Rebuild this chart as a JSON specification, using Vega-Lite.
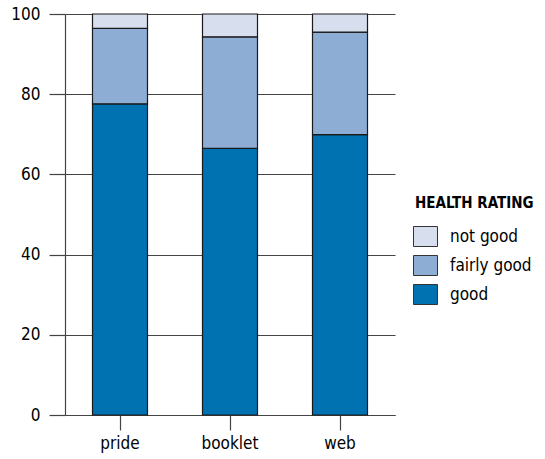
{
  "$schema": "https://vega.github.io/schema/vega-lite/v6.json",
  "autosize": "none",
  "width": 330,
  "height": 401,
  "padding": {"left": 65, "top": 14, "right": 150, "bottom": 44},
  "background": "white",
  "config": {
    "font": "DejaVu Sans Condensed, Roboto, sans-serif",
    "view": {"stroke": null},
    "axis": {"domainColor": "#444", "tickColor": "#444", "gridColor": "#444", "labelColor": "#000", "labelFont": "DejaVu Sans Condensed, Roboto, sans-serif"},
    "legend": {"labelFont": "DejaVu Sans Condensed, Roboto, sans-serif", "titleFont": "DejaVu Sans Condensed, Roboto, sans-serif"}
  },
  "data": {
    "values": [
      {"source": "pride", "rating": "good", "order": 1, "value": 77.6},
      {"source": "pride", "rating": "fairly good", "order": 2, "value": 18.8},
      {"source": "pride", "rating": "not good", "order": 3, "value": 3.6},
      {"source": "booklet", "rating": "good", "order": 1, "value": 66.5},
      {"source": "booklet", "rating": "fairly good", "order": 2, "value": 27.8},
      {"source": "booklet", "rating": "not good", "order": 3, "value": 5.7},
      {"source": "web", "rating": "good", "order": 1, "value": 69.9},
      {"source": "web", "rating": "fairly good", "order": 2, "value": 25.6},
      {"source": "web", "rating": "not good", "order": 3, "value": 4.5}
    ]
  },
  "mark": {"type": "bar", "stroke": "#1a1a1a", "strokeWidth": 1.2},
  "encoding": {
    "x": {
      "field": "source", "type": "nominal", "sort": ["pride", "booklet", "web"],
      "scale": {"paddingInner": 0.5, "paddingOuter": 0.25},
      "axis": {"title": null, "labelAngle": 0, "labelFontSize": 17, "tickSize": 15, "labelPadding": 5, "domain": true, "domainWidth": 1.2, "tickWidth": 1.2}
    },
    "y": {
      "field": "value", "type": "quantitative", "stack": "zero",
      "scale": {"domain": [0, 100], "nice": false},
      "axis": {"title": null, "values": [0, 20, 40, 60, 80, 100], "grid": true, "gridWidth": 1.2, "tickSize": 16, "tickWidth": 1.2, "labelFontSize": 17, "labelPadding": 9, "domainWidth": 1.2}
    },
    "color": {
      "field": "rating", "type": "nominal",
      "scale": {"domain": ["not good", "fairly good", "good"], "range": ["#D7DEEE", "#8EADD5", "#0072B1"]},
      "legend": {
        "title": "HEALTH RATING",
        "orient": "none",
        "legendX": 350,
        "legendY": 182,
        "padding": 0,
        "titleFontSize": 15,
        "titleFontWeight": "bold",
        "titleColor": "#000",
        "titlePadding": 15,
        "labelFontSize": 17,
        "labelColor": "#000",
        "labelOffset": 14,
        "rowPadding": 4,
        "symbolType": "M-1.2,-1L1.2,-1L1.2,1L-1.2,1Z",
        "symbolSize": 400,
        "symbolStrokeColor": "#333",
        "symbolStrokeWidth": 1,
        "symbolOpacity": 1
      }
    },
    "order": {"field": "order", "type": "quantitative"}
  }
}
